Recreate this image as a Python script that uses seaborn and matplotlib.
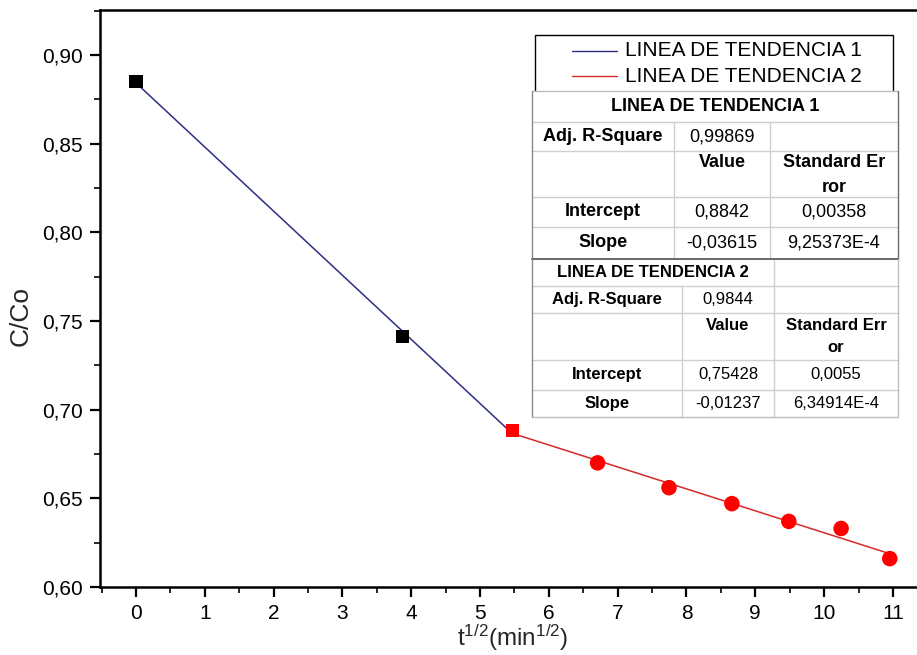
import matplotlib
matplotlib.use("Agg")
import matplotlib.pyplot as plt
import seaborn as sns
import pandas as pd
from matplotlib.patches import Rectangle
from matplotlib.lines import Line2D
from matplotlib.ticker import MultipleLocator, FuncFormatter

# ---------------- data ----------------
x_stage1 = [0.0, 3.873]
y_stage1 = [0.885, 0.741]
x_stage2 = [5.477]
y_stage2 = [0.688]
x_stage3 = [6.708, 7.746, 8.660, 9.487, 10.247, 10.954]
y_stage3 = [0.670, 0.656, 0.647, 0.637, 0.633, 0.616]

fit1_x = [0.0, 5.477]
fit1_intercept, fit1_slope = 0.8842, -0.03615
fit2_x = [5.477, 10.954]
fit2_intercept, fit2_slope = 0.75428, -0.01237

legend_labels = ["LINEA DE TENDENCIA 1", "LINEA DE TENDENCIA 2"]
table1_title = "LINEA DE TENDENCIA 1"
table1_r2 = "0,99869"
table1_intercept = ["0,8842", "0,00358"]
table1_slope = ["-0,03615", "9,25373E-4"]
table2_title = "LINEA DE TENDENCIA 2"
table2_r2 = "0,9844"
table2_intercept = ["0,75428", "0,0055"]
table2_slope = ["-0,01237", "6,34914E-4"]

# ---------------- style ----------------
sns.set_theme(style="ticks")
plt.rcParams["font.family"] = ["Liberation Sans", "DejaVu Sans"]
plt.rcParams["mathtext.fontset"] = "custom"
plt.rcParams["mathtext.rm"] = "Liberation Sans"
plt.rcParams["mathtext.default"] = "regular"

W, H = 917, 655
fig = plt.figure(figsize=(W / 100, H / 100), dpi=100)
ax = fig.add_axes([100 / W, (H - 587) / H, (W - 100) / W, (587 - 10) / H])

blue = "#2e2e86"
red = "#d62a2a"

fit1 = pd.DataFrame({"x": fit1_x, "y": [fit1_intercept + fit1_slope * v for v in fit1_x]})
fit2 = pd.DataFrame({"x": fit2_x, "y": [fit2_intercept + fit2_slope * v for v in fit2_x]})
sns.lineplot(data=fit1, x="x", y="y", color=blue, lw=1.1, ax=ax, zorder=2)
sns.lineplot(data=fit2, x="x", y="y", color=red, lw=1.1, ax=ax, zorder=2)

sns.scatterplot(x=x_stage1, y=y_stage1, marker="s", s=90, color="black",
                edgecolor="none", ax=ax, zorder=3)
sns.scatterplot(x=x_stage2, y=y_stage2, marker="s", s=90, color="red",
                edgecolor="none", ax=ax, zorder=3)
sns.scatterplot(x=x_stage3, y=y_stage3, marker="o", s=125, color="red",
                edgecolor="none", ax=ax, zorder=3)

ax.set_xlim(-0.523, 11.35)
ax.set_ylim(0.60, 0.9253)
ax.xaxis.set_major_locator(MultipleLocator(1))
ax.xaxis.set_minor_locator(MultipleLocator(0.5))
ax.yaxis.set_major_locator(MultipleLocator(0.05))
ax.yaxis.set_minor_locator(MultipleLocator(0.025))
ax.yaxis.set_major_formatter(FuncFormatter(lambda v, p: f"{v:.2f}".replace(".", ",")))
ax.xaxis.set_major_formatter(FuncFormatter(lambda v, p: f"{v:.0f}"))
ax.tick_params(axis="both", which="major", direction="out", length=7.5, width=1.6,
               labelsize=15, colors="black", pad=5)
ax.tick_params(axis="both", which="minor", direction="out", length=4.5, width=1.4)
ax.tick_params(axis="x", which="major", pad=4.5)
for side in ["left", "bottom", "top"]:
    ax.spines[side].set_visible(True)
    ax.spines[side].set_linewidth(1.8)
    ax.spines[side].set_color("black")
ax.spines["right"].set_visible(False)

ax.set_ylabel("C/Co", fontsize=19)
ax.yaxis.set_label_coords(-0.082, 0.47)
ax.set_xlabel("t$^{1/2}$(min$^{1/2}$)", fontsize=17.5, labelpad=0)
ax.xaxis.set_label_coords(0.505, -0.0625)


# ---------------- legend & tables (figure pixel coords) ----------------
def fx(px):
    return px / W


def fy(py):
    return 1 - py / H


def rect(x0, y0, x1, y1, fc="white", ec="none", lw=1.0, z=5):
    fig.add_artist(Rectangle((fx(x0), fy(y1)), fx(x1) - fx(x0), fy(y0) - fy(y1),
                             transform=fig.transFigure, facecolor=fc, edgecolor=ec,
                             lw=lw, zorder=z))


def hline(x0, x1, y, c="#cfcfcf", lw=1.0, z=7):
    fig.add_artist(Line2D([fx(x0), fx(x1)], [fy(y), fy(y)], transform=fig.transFigure,
                          color=c, lw=lw, zorder=z))


def vline(x, y0, y1, c="#cfcfcf", lw=1.0, z=7):
    fig.add_artist(Line2D([fx(x), fx(x)], [fy(y0), fy(y1)], transform=fig.transFigure,
                          color=c, lw=lw, zorder=z))


def txt(x, y, s, size=12, bold=False, ha="center", va="center", z=8):
    fig.text(fx(x), fy(y), s, fontsize=size, fontweight="bold" if bold else "normal",
             ha=ha, va=va, zorder=z, color="black")


# legend box
rect(535, 35, 893, 92, fc="white", ec="black", lw=1.0, z=5)
leg_colors = [blue, red]
for i, (lab, col) in enumerate(zip(legend_labels, leg_colors)):
    yy = 51 + i * 25
    fig.add_artist(Line2D([fx(572), fx(617)], [fy(yy), fy(yy)], transform=fig.transFigure,
                          color=col, lw=1.0, zorder=6))
    txt(625, yy, lab, size=15, ha="left")

# table 1
t1L, t1R = 532, 898
c1a, c1b = 674, 770
r1 = [91, 122, 151, 197, 227, 259]
rect(t1L, r1[0], t1R, r1[-1], fc="white", ec="none", z=6)
for yy in r1[1:-1]:
    hline(t1L, t1R, yy)
for xx in (c1a, c1b):
    vline(xx, r1[1], r1[-1])
hline(t1L, t1R, r1[0], c="#bdbdbd")
vline(t1L, r1[0], r1[-1], c="#8a8a8a")
vline(t1R, r1[0], r1[-1], c="#6a6a6a")
hline(t1L, t1R, r1[-1], c="#6a6a6a", lw=1.3)

s1 = 13
m1 = (t1L + c1a) / 2
m2 = (c1a + c1b) / 2
m3 = (c1b + t1R) / 2
txt((t1L + t1R) / 2, (r1[0] + r1[1]) / 2, table1_title, size=s1, bold=True)
txt(m1, (r1[1] + r1[2]) / 2, "Adj. R-Square", size=s1, bold=True)
txt(m2, (r1[1] + r1[2]) / 2, table1_r2, size=s1)
txt(m2, 163, "Value", size=s1, bold=True)
txt(m3, 163, "Standard Er", size=s1, bold=True)
txt(m3, 187, "ror", size=s1, bold=True)
txt(m1, (r1[3] + r1[4]) / 2, "Intercept", size=s1, bold=True)
txt(m2, (r1[3] + r1[4]) / 2, table1_intercept[0], size=s1)
txt(m3, (r1[3] + r1[4]) / 2, table1_intercept[1], size=s1)
txt(m1, (r1[4] + r1[5]) / 2, "Slope", size=s1, bold=True)
txt(m2, (r1[4] + r1[5]) / 2, table1_slope[0], size=s1)
txt(m3, (r1[4] + r1[5]) / 2, table1_slope[1], size=s1)

# table 2
t2L, t2R = 532, 898
c2a, c2b = 682, 774
r2 = [259, 286, 313, 360, 390, 417]
rect(t2L, r2[0], t2R, r2[-1], fc="white", ec="none", z=6)
for yy in r2[1:-1]:
    hline(t2L, t2R, yy)
vline(c2a, r2[1], r2[-1])
vline(c2b, r2[0], r2[-1])
hline(t2L, t2R, r2[0], c="#6a6a6a", lw=1.3)
vline(t2L, r2[0], r2[-1], c="#8a8a8a")
vline(t2R, r2[0], r2[-1], c="#bdbdbd")
hline(t2L, t2R, r2[-1], c="#bdbdbd")

s2 = 12
n1 = (t2L + c2a) / 2
n2 = (c2a + c2b) / 2
n3 = (c2b + t2R) / 2
txt((t2L + c2b) / 2, (r2[0] + r2[1]) / 2, table2_title, size=s2, bold=True)
txt(n1, (r2[1] + r2[2]) / 2, "Adj. R-Square", size=s2, bold=True)
txt(n2, (r2[1] + r2[2]) / 2, table2_r2, size=s2)
txt(n2, 325, "Value", size=s2, bold=True)
txt(n3, 325, "Standard Err", size=s2, bold=True)
txt(n3, 347, "or", size=s2, bold=True)
txt(n1, (r2[3] + r2[4]) / 2, "Intercept", size=s2, bold=True)
txt(n2, (r2[3] + r2[4]) / 2, table2_intercept[0], size=s2)
txt(n3, (r2[3] + r2[4]) / 2, table2_intercept[1], size=s2)
txt(n1, (r2[4] + r2[5]) / 2, "Slope", size=s2, bold=True)
txt(n2, (r2[4] + r2[5]) / 2, table2_slope[0], size=s2)
txt(n3, (r2[4] + r2[5]) / 2, table2_slope[1], size=s2)

fig.savefig("out.png", dpi=100)
